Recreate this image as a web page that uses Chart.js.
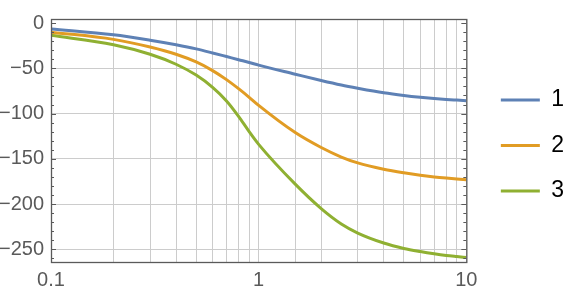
<!DOCTYPE html>
<html>
<head>
<meta charset="utf-8">
<script src="https://cdn.jsdelivr.net/npm/chart.js@4/dist/chart.umd.min.js"></script>
<style>
	html, body { margin: 0; padding: 0; background: #fff; }
	#wrap { width: 579px; height: 295px; position: relative; }
</style>
</head>
<body>
<div id="wrap"><canvas id="phase-chart"></canvas></div>
<script>
const freqs = [0.1, 0.2, 0.3, 0.4, 0.5, 0.6, 0.7, 0.8, 0.9, 1, 1.5, 2, 2.5, 3, 4, 5, 6, 7, 8, 9, 10];

const series1 = [-6.5, -13, -19, -24, -28.5, -33, -37, -40.5, -43.5, -46.5, -56.5, -63.5, -68.5, -72, -77, -80, -82, -83.4, -84.4, -85.1, -85.7];
const series2 = [-10, -18, -26.5, -34.5, -43, -52.5, -62.5, -72.5, -82, -91, -121, -137.5, -148, -154.5, -161.5, -165.5, -168.2, -170, -171.3, -172.3, -173];
const series3 = [-13.5, -24, -34.5, -45.5, -57.5, -71, -86, -103, -120, -134, -178, -205, -222, -232, -243, -249, -252.5, -255, -256.8, -258, -259];

const seriesNames = ['1', '2', '3'];
const palette = ['#5e81b5', '#e19c24', '#8fb032'];

const yLabels = [-250, -200, -150, -100, -50, 0];
const xLabels = [0.1, 1, 10];

const frameColor = '#5a5a5a';
const gridColor = '#cccccc';
const fontFamily = "'Liberation Sans', Arial, sans-serif";

function toPoints(values) {
	return freqs.map((f, i) => ({ x: f, y: values[i] }));
}

const datasets = [series1, series2, series3].map((values, i) => ({
	label: seriesNames[i],
	data: toPoints(values),
	borderColor: palette[i],
	backgroundColor: palette[i],
	borderWidth: 3,
	pointRadius: 0,
	fill: false,
	cubicInterpolationMode: 'monotone',
}));

// frame with small inward ticks, like the original plot
const framePlugin = {
	id: 'frame',
	afterDraw(chart) {
		const { ctx, chartArea: a, scales } = chart;
		const y = scales.y;
		ctx.save();
		ctx.strokeStyle = frameColor;
		ctx.lineWidth = 1;
		ctx.beginPath();
		for (let v = -260; v <= 0; v += 10) {
			const py = Math.round(y.getPixelForValue(v)) + 0.5;
			const len = v % 50 === 0 ? 5 : 3;
			ctx.moveTo(a.left, py);
			ctx.lineTo(a.left + len, py);
			ctx.moveTo(a.right, py);
			ctx.lineTo(a.right - len, py);
		}
		ctx.stroke();
		ctx.lineWidth = 1.3;
		ctx.strokeRect(a.left + 0.5, a.top + 0.5, a.right - a.left, a.bottom - a.top);
		ctx.restore();
	},
};

new Chart(document.getElementById('phase-chart'), {
	type: 'line',
	data: { datasets },
	options: {
		animation: false,
		responsive: true,
		maintainAspectRatio: false,
		layout: { padding: { top: 5, left: 0, right: 5, bottom: 9 } },
		plugins: {
			tooltip: { enabled: false },
			legend: {
				position: 'right',
				labels: {
					boxWidth: 39,
					boxHeight: 0,
					padding: 22.5,
					color: '#000',
					font: { family: fontFamily, size: 23 },
				},
			},
		},
		scales: {
			x: {
				type: 'logarithmic',
				min: 0.1,
				max: 10,
				afterFit: (s) => { s.height = 24; },
				border: { display: false },
				grid: { color: gridColor, drawTicks: false },
				ticks: {
					autoSkip: false,
					maxRotation: 0,
					padding: 6,
					color: frameColor,
					font: { family: fontFamily, size: 20 },
					callback: (val) => xLabels.some((l) => Math.abs(l - val) < 1e-9) ? String(val) : '',
				},
			},
			y: {
				type: 'linear',
				min: -264,
				max: 4.5,
				afterFit: (s) => { s.width = 51; },
				afterBuildTicks: (s) => { s.ticks = yLabels.map((v) => ({ value: v })); },
				border: { display: false },
				grid: {
					drawTicks: false,
					color: (ctx) => (ctx.tick && ctx.tick.value === 0 ? 'rgba(0,0,0,0)' : gridColor),
				},
				ticks: {
					padding: 7,
					color: frameColor,
					font: { family: fontFamily, size: 20 },
					callback: (val) => (val < 0 ? '\u2212' + Math.abs(val) : String(val)),
				},
			},
			// empty spacer between the plot frame and the legend
			gap: {
				type: 'linear',
				position: 'right',
				display: true,
				afterFit: (s) => { s.width = 12; },
				border: { display: false },
				grid: { display: false },
				ticks: { display: false },
			},
		},
	},
	plugins: [framePlugin],
});
</script>
</body>
</html>
